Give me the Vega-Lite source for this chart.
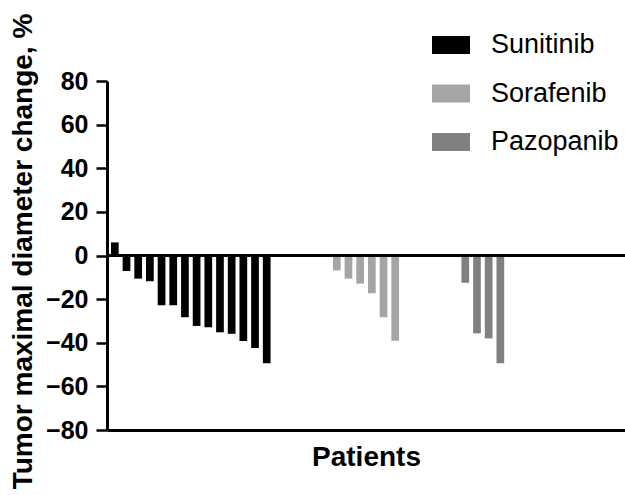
{
  "$schema": "https://vega.github.io/schema/vega-lite/v6.json",
  "autosize": "none",
  "width": 518,
  "height": 349,
  "padding": {"left": 107, "top": 81, "right": 0, "bottom": 65},
  "background": "white",
  "config": {
    "view": {"stroke": null},
    "font": "Liberation Sans"
  },
  "data": {
    "values": [
      {"patient": "S1", "drug": "Sunitinib", "change": 6},
      {"patient": "S2", "drug": "Sunitinib", "change": -7.1},
      {"patient": "S3", "drug": "Sunitinib", "change": -10.6},
      {"patient": "S4", "drug": "Sunitinib", "change": -11.8},
      {"patient": "S5", "drug": "Sunitinib", "change": -22.8},
      {"patient": "S6", "drug": "Sunitinib", "change": -22.8},
      {"patient": "S7", "drug": "Sunitinib", "change": -28.3},
      {"patient": "S8", "drug": "Sunitinib", "change": -32.3},
      {"patient": "S9", "drug": "Sunitinib", "change": -32.9},
      {"patient": "S10", "drug": "Sunitinib", "change": -35.2},
      {"patient": "S11", "drug": "Sunitinib", "change": -35.9},
      {"patient": "S12", "drug": "Sunitinib", "change": -39.2},
      {"patient": "S13", "drug": "Sunitinib", "change": -42.4},
      {"patient": "S14", "drug": "Sunitinib", "change": -49.4},
      {"patient": "F1", "drug": "Sorafenib", "change": -6.8},
      {"patient": "F2", "drug": "Sorafenib", "change": -10.6},
      {"patient": "F3", "drug": "Sorafenib", "change": -12.9},
      {"patient": "F4", "drug": "Sorafenib", "change": -17.3},
      {"patient": "F5", "drug": "Sorafenib", "change": -28.3},
      {"patient": "F6", "drug": "Sorafenib", "change": -39.1},
      {"patient": "P1", "drug": "Pazopanib", "change": -12.5},
      {"patient": "P2", "drug": "Pazopanib", "change": -35.7},
      {"patient": "P3", "drug": "Pazopanib", "change": -38},
      {"patient": "P4", "drug": "Pazopanib", "change": -49.4}
    ]
  },
  "layer": [
    {
      "mark": {"type": "bar"},
      "encoding": {
        "x": {
          "field": "patient",
          "type": "nominal",
          "scale": {
            "domain": ["S1","S2","S3","S4","S5","S6","S7","S8","S9","S10","S11","S12","S13","S14","g1","g2","g3","g4","g5","F1","F2","F3","F4","F5","F6","g6","g7","g8","g9","g10","P1","P2","P3","P4","e1","e2","e3","e4","e5","e6","e7","e8","e9","e10"],
            "paddingInner": 0.34,
            "paddingOuter": 0.34,
            "round": false
          },
          "axis": {
            "title": "Patients",
            "titleFont": "Liberation Sans",
            "titleFontSize": 28,
            "titleFontWeight": "bold",
            "titleColor": "black",
            "titlePadding": 13,
            "labels": false,
            "ticks": false,
            "domainColor": "black",
            "domainWidth": 3
          }
        },
        "y": {
          "field": "change",
          "type": "quantitative",
          "scale": {"domain": [-80, 80], "nice": false, "zero": false},
          "axis": {
            "title": "Tumor maximal diameter change, %",
            "titleFont": "Liberation Sans",
            "titleFontSize": 28,
            "titleFontWeight": "bold",
            "titleColor": "black",
            "titlePadding": 8,
            "titleY": 170,
            "values": [-80, -60, -40, -20, 0, 20, 40, 60, 80],
            "labelFont": "Liberation Sans",
            "labelFontSize": 25,
            "labelFontWeight": "bold",
            "labelColor": "black",
            "labelPadding": 8,
            "tickSize": 11,
            "tickWidth": 2.5,
            "tickColor": "black",
            "domainColor": "black",
            "domainWidth": 3,
            "grid": false
          }
        },
        "color": {
          "field": "drug",
          "type": "nominal",
          "scale": {
            "domain": ["Sunitinib", "Sorafenib", "Pazopanib"],
            "range": ["#000000", "#a5a5a5", "#808080"]
          },
          "legend": {
            "title": null,
            "orient": "none",
            "legendX": 325,
            "legendY": -55,
            "padding": 0,
            "symbolType": "M-1,-0.47H1V0.47H-1Z",
            "symbolSize": 1444,
            "symbolStrokeWidth": 0,
            "symbolOpacity": 1,
            "labelFont": "Liberation Sans",
            "labelFontSize": 27,
            "labelColor": "black",
            "labelOffset": 21,
            "rowPadding": 16.5
          }
        }
      }
    },
    {
      "mark": {"type": "rule", "strokeWidth": 3, "color": "black"},
      "encoding": {"y": {"datum": 0}}
    }
  ]
}
